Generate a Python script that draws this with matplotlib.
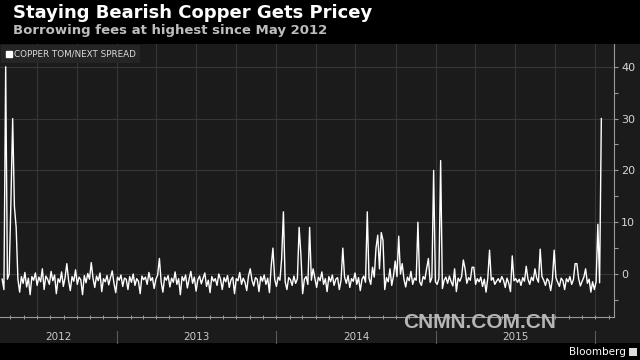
import numpy as np
import pandas as pd
import matplotlib
matplotlib.use("Agg")
from matplotlib import pyplot as plt
import matplotlib.dates as mdates
from matplotlib.lines import Line2D
from matplotlib.patches import Rectangle

# copper tom/next spread, sampled every 4 days from 2012-04-13
start_date = "2012-04-13"
spread = [
    -1.0, -3.0, 40.0, -1.0, 0.0, 14.0, 30.0, 13.0, 9.0, -1.0,
    -3.5, -0.5, -1.8, 0.3, -2.5, -0.8, -4.0, -0.5, -1.2, 0.2,
    -2.2, -0.6, -1.5, 1.0, -3.0, -0.4, -1.0, -2.0, 0.5, -1.3,
    -0.2, -3.8, -0.9, -1.6, 0.4, -2.4, -0.7, 2.0, -1.2, -3.2,
    -0.5, -1.4, 0.8, -2.0, -0.6, -1.1, -4.0, -0.3, -1.7, 0.1,
    -1.0, 2.2, -0.8, -2.6, -0.4, -1.3, 0.2, -3.4, -0.9, -1.5,
    -0.3, -2.1, -0.7, 0.6, -1.8, -3.6, -0.6, -1.2, -0.2, -2.4,
    -0.8, -1.0, -3.0, -0.5, -1.6, 0.0, -2.2, -0.9, -1.4, -3.8,
    -0.4, -1.1, -0.6, -2.0, 0.3, -1.3, -0.7, -2.8, -1.0, -0.2,
    3.0, -1.5, -3.5, -0.6, -1.2, -0.3, -2.5, -0.8, -1.6, 0.4,
    -2.0, -0.9, -4.0, -0.5, -1.3, -0.2, -2.7, -1.0, 0.5, -1.8,
    -0.6, -3.3, -1.1, -0.4, -1.9, -0.8, 0.2, -2.4, -1.2, -3.6,
    -0.5, -1.4, -0.9, -2.2, 0.0, -1.0, -3.0, -0.7, -1.5, -0.3,
    -2.6, -1.1, -0.6, -3.8, -0.9, -1.3, 0.3, -2.0, -0.8, -1.6,
    -3.2, -0.4, 1.0, -1.2, -2.3, -0.7, -1.0, -3.4, -0.5, -1.4,
    -0.2, -2.0, -0.8, -3.6, 1.5, 5.0, -1.0, -2.4, -0.6, -1.2,
    3.0, 12.0, -1.5, -3.0, -0.7, -1.1, -2.2, -0.4, -1.8, -0.9,
    9.0, 3.8, -3.8, -1.0, -0.5, -2.0, 9.0, -1.2, 1.0, -0.8,
    -2.6, -0.6, -1.3, 0.4, -2.0, -0.9, -3.4, -0.5, -1.5, -0.2,
    -2.2, -1.0, -0.7, -3.0, -1.2, 5.0, -0.6, -1.8, -0.3, -2.6,
    -0.9, -1.4, 0.2, -2.0, -0.7, -3.2, -1.0, -0.4, -1.6, 12.0,
    -0.8, -2.0, 1.3, -0.6, 5.0, 7.5, 1.0, 8.0, 6.5, -3.0,
    -0.7, -1.5, 1.0, -2.2, -0.4, 2.5, -0.5, 7.3, 0.0, 2.0,
    -1.0, -2.5, -0.6, -1.3, 0.5, -2.0, -0.8, -1.2, 10.0, -1.5,
    -2.2, -0.5, -1.0, 1.1, 3.0, -1.6, -0.7, 20.0, -1.5, -2.0,
    -0.9, 21.9, -2.8, -1.2, -0.6, -1.8, -0.4, -1.5, -2.3, 1.0,
    -3.4, -0.8, -1.4, -0.5, 2.7, 1.0, -1.8, -0.7, -1.2, 1.3,
    1.3, -2.0, -0.9, -1.5, -0.6, -2.4, -1.0, -3.5, -0.8, 4.6,
    -1.2, -0.7, -2.0, -1.4, -0.9, -1.6, -0.5, -1.2, -2.6, -0.8,
    -1.8, -3.4, 3.5, -1.3, -0.9, -1.6, -1.0, -2.2, -0.7, -1.4,
    1.5, -1.0, -2.0, -0.6, -1.3, 1.0, -0.8, -1.6, 4.8, -0.5,
    -1.2, -2.2, -0.9, -1.4, -3.2, -1.0, 4.6, -0.7, -1.6, -2.4,
    -0.8, -1.3, -3.0, -0.9, -1.5, -0.5, -2.0, -1.1, 2.0, 2.0,
    -0.9, -2.3, -1.4, -0.6, 1.0, -1.8, -1.0, -3.5, -1.5, -3.0,
    -1.5, 9.6, -1.7, 30.0,
]
years = ["2012", "2013", "2014", "2015"]
yticks = [0, 10, 20, 30, 40]

title = "Staying Bearish Copper Gets Pricey"
subtitle = "Borrowing fees at highest since May 2012"
series_name = "COPPER TOM/NEXT SPREAD"

dates = pd.date_range(start_date, periods=len(spread), freq="4D")

fig = plt.figure(figsize=(6.4, 3.6), dpi=100, facecolor="black")
# grey panel behind chart + year labels
fig.patches.append(Rectangle((0, 1 - 343 / 360), 1, (343 - 44) / 360,
                             transform=fig.transFigure, facecolor="#1b1b1b",
                             edgecolor="none", zorder=-10))

ax = fig.add_axes([0.0, 1 - 317 / 360, 614 / 640, (317 - 44) / 360])
ax.set_facecolor("#1b1b1b")
ax.plot(dates, spread, color="white", lw=1.0, zorder=3)

xmin = pd.Timestamp("2012-04-08")
xmax = pd.Timestamp("2016-02-13")
ax.set_xlim(xmin, xmax)
ax.set_ylim(-8.3, 44.4)

for s in ["top", "left"]:
    ax.spines[s].set_visible(False)
ax.spines["right"].set_color("#9a9a9a")
ax.spines["bottom"].set_color("#9a9a9a")
ax.spines["right"].set_linewidth(0.8)
ax.spines["bottom"].set_linewidth(0.8)

ax.yaxis.tick_right()
ax.set_yticks(yticks)
ax.set_yticks([-5, 5, 15, 25, 35], minor=True)
ax.tick_params(axis="y", which="both", colors="#9a9a9a", labelcolor="#d6d6d6",
               labelsize=8, length=3, width=0.8, pad=2)

ax.xaxis.set_major_locator(mdates.MonthLocator(bymonth=[1, 4, 7, 10]))
ax.xaxis.set_minor_locator(mdates.MonthLocator())
ax.tick_params(axis="x", which="both", direction="inout", length=3,
               colors="#9a9a9a", labelbottom=False, width=0.7)

ax.grid(True, which="major", color="#363636", lw=0.8)
ax.set_axisbelow(True)

# year labels and separators under the axis
tr = ax.get_xaxis_transform()
for i, y in enumerate(years):
    y0 = max(pd.Timestamp(f"{y}-01-01"), xmin)
    y1 = pd.Timestamp(f"{int(y) + 1}-01-01")
    mid = y0 + (y1 - y0) / 2
    ax.text(mid, -0.073, y, transform=tr, ha="center", va="center",
            color="#c8c8c8", fontsize=7.5, clip_on=False)
    ax.plot([y1, y1], [-0.05, -0.095], transform=tr, color="#5a5a5a",
            lw=0.8, clip_on=False)

leg = ax.legend(handles=[Line2D([], [], marker="s", color="white", ls="none",
                                markersize=4.5)],
                labels=[series_name], loc="upper left", bbox_to_anchor=(0, 1),
                borderaxespad=0.15, frameon=True, facecolor="#252525",
                edgecolor="none", framealpha=1, fancybox=False, fontsize=6.3,
                handletextpad=0.1, handlelength=0.8, borderpad=0.5,
                labelcolor="#dcdcdc")

fig.text(13 / 640, 1 - 4 / 360, title, color="white", fontsize=13,
         fontweight="bold", ha="left", va="top")
fig.text(13 / 640, 1 - 24 / 360, subtitle, color="#bdbdbd", fontsize=9.5,
         fontweight="bold", ha="left", va="top")

fig.text(480 / 640, 1 - 322 / 360, "CNMN.COM.CN", color="#b5b5b5",
         fontsize=15, fontweight="bold", ha="center", va="center",
         family=["Liberation Sans Narrow", "Liberation Sans", "DejaVu Sans"],
         zorder=5)

fig.text(626 / 640, 1 - 352 / 360, "Bloomberg", color="white", fontsize=7.5,
         ha="right", va="center")
fig.patches.append(Rectangle((629 / 640, 1 - 356 / 360), 8 / 640, 8 / 360,
                             transform=fig.transFigure, facecolor="#dddddd",
                             edgecolor="none"))

fig.savefig("out.png", dpi=100, facecolor="black")
